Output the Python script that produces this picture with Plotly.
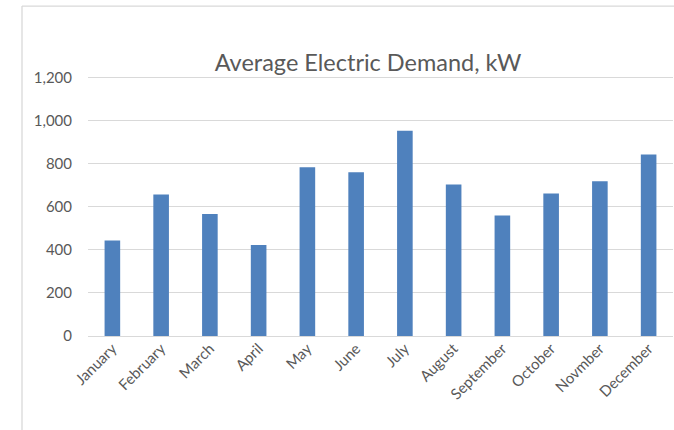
import plotly.graph_objects as go

# Monthly average electric demand (kW)
months = ["January", "February", "March", "April", "May", "June", "July",
          "August", "September", "October", "Novmber", "December"]
demand_kw = [443, 657, 566, 422, 784, 760, 953, 704, 560, 662, 719, 843]

y_ticks = [0, 200, 400, 600, 800, 1000, 1200]
y_top = 1212  # a little above the last tick so its gridline is drawn

W, H = 674, 430
# plot-area edges in pixels
L, R, B = 88, 673, 336
px_per_unit = (B - 77.5) / 1200
T = B - y_top * px_per_unit
pw, ph = R - L, B - T

text_color = "#595959"
grid_color = "#d9d9d9"
font_family = "Lato, 'Open Sans', sans-serif"

fig = go.Figure(
    go.Bar(
        x=months,
        y=demand_kw,
        marker=dict(color="#4F81BD", line=dict(width=0)),
        hoverinfo="x+y",
    )
)

# chart-area frame (left and top edges)
fx = (22 - L) / pw
fy_top = (B - 6) / ph
fy_bot = (B - H) / ph
fig.add_shape(type="line", xref="paper", yref="paper", x0=fx, x1=(W - L) / pw,
              y0=fy_top, y1=fy_top, line=dict(color=grid_color, width=1.3))
fig.add_shape(type="line", xref="paper", yref="paper", x0=fx, x1=fx,
              y0=fy_bot, y1=fy_top, line=dict(color=grid_color, width=1.3))

fig.update_layout(
    width=W,
    height=H,
    margin=dict(l=L, r=W - R, t=T, b=H - B, pad=0),
    paper_bgcolor="white",
    plot_bgcolor="white",
    bargap=0.68,
    showlegend=False,
    font=dict(family=font_family, color=text_color, size=15),
    title=dict(
        text="Average Electric Demand, kW",
        x=368 / W,
        xanchor="center",
        xref="container",
        y=1 - 63 / H,
        yref="container",
        yanchor="middle",
        font=dict(family=font_family, size=23.5, color=text_color, weight=400),
    ),
    xaxis=dict(
        type="category",
        tickangle=-45,
        showgrid=False,
        showline=False,
        zeroline=False,
        ticks="",
        tickfont=dict(size=15, color=text_color),
    ),
    yaxis=dict(
        range=[0, y_top],
        tickvals=y_ticks,
        tickformat=",d",
        showgrid=True,
        gridcolor=grid_color,
        gridwidth=1,
        zeroline=True,
        zerolinecolor=grid_color,
        zerolinewidth=1,
        showline=False,
        ticks="",
        ticklabelstandoff=15,
        tickfont=dict(size=15, color=text_color),
    ),
)

fig.write_html("out.html")
